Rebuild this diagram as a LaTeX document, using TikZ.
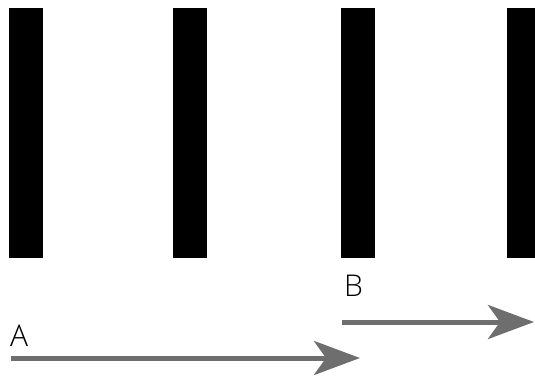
\documentclass[tikz,border=0pt]{standalone}
\usepackage{fontspec}
\IfFontExistsTF{Open Sans Light}
  {\setmainfont{Open Sans Light}}
  {\setmainfont{Open Sans}}
\usepackage{tikz}
\usetikzlibrary{positioning, arrows.meta}
\definecolor{barBlack}{HTML}{000000}
\definecolor{arrowGray}{HTML}{6E6E6E}

\begin{document}
\begin{tikzpicture}[
  x=1pt, y=1pt,
  bar/.style={
    rectangle, inner sep=0pt,
    minimum width=34pt, minimum height=250pt,
    fill=barBlack, draw=none
  },
  flowarrow/.style={
    -{Stealth[length=46pt, width=34pt, inset=12pt]},
    line width=5pt, arrowGray
  },
  lbl/.style={
    inner sep=0pt, font=\fontsize{30}{30}\selectfont, text=black
  },
]
\clip (0,0) rectangle (535,375);

% === Bars ===
\foreach \i/\x in {1/26, 2/190, 3/358, 4/524} {
  \node[bar] (bar\i) at (\x,242) {};
}

% === Arrow ends ===
\coordinate (aStart) at (11,17);
\coordinate (aEnd) at (360,17);
\coordinate (bStart) at (342,53);
\coordinate (bEnd) at (534,53);

% === Arrows ===
\draw[flowarrow] (aStart) -- (aEnd);
\draw[flowarrow] (bStart) -- (bEnd);

% === Labels ===
\node[lbl, anchor=south west] (labA) at (10,28) {A};
\node[lbl, anchor=south west] (labB) at (344,78) {B};

\end{tikzpicture}
\end{document}
